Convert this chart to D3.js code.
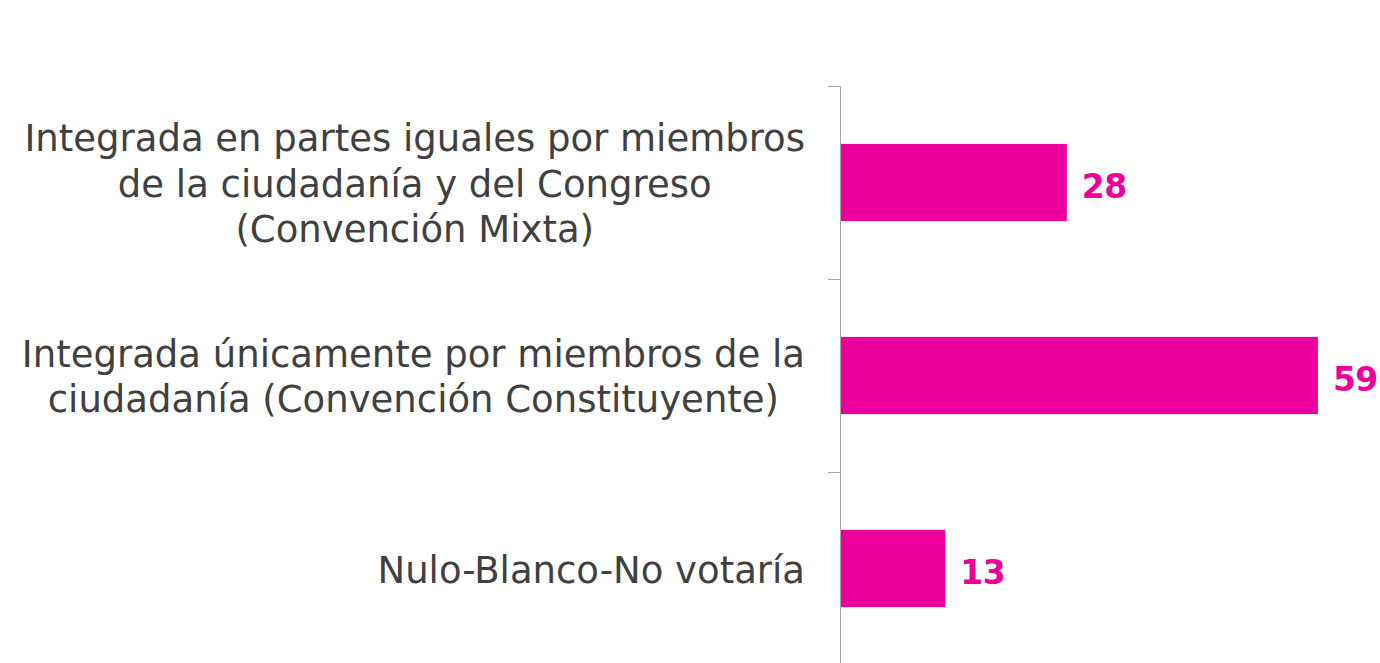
<!DOCTYPE html>
<html>
<head>
<meta charset="UTF-8">
<title>Convención</title>
<script src="https://cdnjs.cloudflare.com/ajax/libs/d3/7.8.5/d3.min.js"></script>
<style>
html, body {
  margin: 0;
  padding: 0;
  background: #ffffff;
}
svg {
  font-family: 'DejaVu Sans', sans-serif;
  display: block;
}
</style>
</head>
<body>
<script>
// datos
var categorias = ["mixta", "constituyente", "nulo"];
var etiquetas = [
  ["Integrada en partes iguales por miembros", "de la ciudadanía y del Congreso", "(Convención Mixta)"],
  ["Integrada únicamente por miembros de la", "ciudadanía (Convención Constituyente)"],
  ["Nulo-Blanco-No votaría"]
];
var valores = [28, 59, 13];

var width = 1380, height = 663;
var ejeX = 840, textoDerecha = 805;

var svg = d3.select("body").append("svg")
  .attr("width", width)
  .attr("height", height);

var y = d3.scaleBand()
  .domain(categorias)
  .range([86, 665])
  .padding(0);

var x = d3.scaleLinear()
  .domain([0, 60])
  .range([ejeX, ejeX + 486]);

var rosa = "#ec009c";

// eje vertical
svg.append("line")
  .attr("x1", ejeX + 0.5).attr("x2", ejeX + 0.5)
  .attr("y1", y.range()[0]).attr("y2", y.range()[1])
  .attr("stroke", "#a6a6a6").attr("stroke-width", 1);

// marcas entre categorias
svg.selectAll(".tick").data(categorias)
  .enter().append("line")
  .attr("class", "tick")
  .attr("x1", ejeX - 12).attr("x2", ejeX)
  .attr("y1", function(d) { return Math.round(y(d)) + 0.5; })
  .attr("y2", function(d) { return Math.round(y(d)) + 0.5; })
  .attr("stroke", "#a6a6a6").attr("stroke-width", 1);

// barras
svg.selectAll(".barra").data(valores)
  .enter().append("rect")
  .attr("class", "barra")
  .attr("x", x(0) + 1)
  .attr("y", function(d, i) { return y(categorias[i]) + y.bandwidth() * 0.3; })
  .attr("width", function(d) { return x(d) - x(0) - 1; })
  .attr("height", y.bandwidth() * 0.4)
  .attr("fill", rosa);

// valores
svg.selectAll(".valor").data(valores)
  .enter().append("text")
  .attr("class", "valor")
  .attr("x", function(d) { return x(d) + 15; })
  .attr("y", function(d, i) { return y(categorias[i]) + y.bandwidth() / 2 + 15; })
  .attr("font-size", "33px")
  .attr("font-weight", "bold")
  .attr("letter-spacing", "-0.5px")
  .attr("fill", rosa)
  .text(function(d) { return d; });

// etiquetas de categoria
var lineH = 45.5;
etiquetas.forEach(function(lineas, i) {
  var g = svg.append("g");
  var medio = y(categorias[i]) + y.bandwidth() / 2;
  var t = g.selectAll("text").data(lineas)
    .enter().append("text")
    .attr("font-size", "37px")
    .attr("fill", "#404040")
    .attr("text-anchor", "middle")
    .text(function(d) { return d; });
  var maxW = d3.max(t.nodes(), function(n) { return n.getComputedTextLength(); });
  var cx = textoDerecha - maxW / 2;
  t.attr("x", cx)
    .attr("y", function(d, j) { return medio + (j - (lineas.length - 1) / 2) * lineH + 14; });
});
</script>
</body>
</html>
